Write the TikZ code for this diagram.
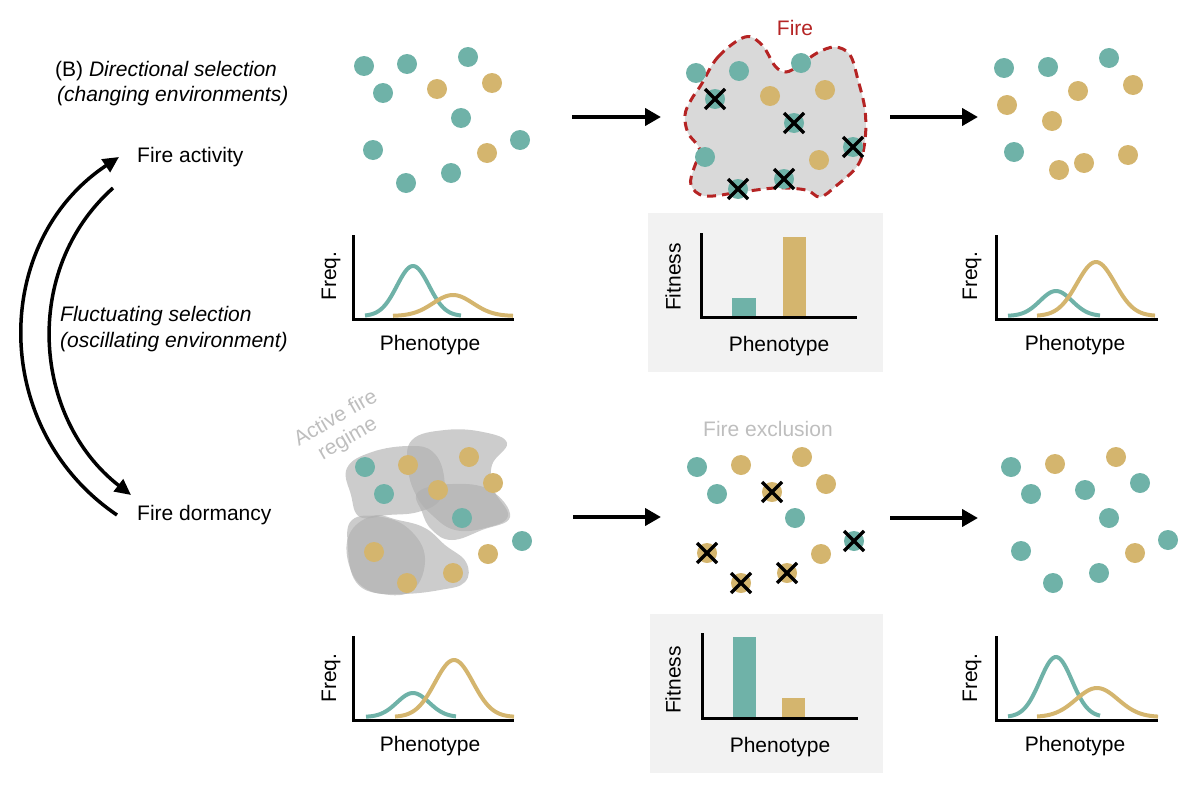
\documentclass[tikz,border=0pt]{standalone}
\usepackage{fontspec}
\setmainfont{Liberation Sans}
\usetikzlibrary{arrows.meta}
\definecolor{tealc}{RGB}{111,178,168}
\definecolor{goldc}{RGB}{212,181,110}
\definecolor{firered}{RGB}{181,36,36}
\definecolor{blobgray}{RGB}{217,217,217}
\definecolor{panelgray}{RGB}{242,242,242}
\definecolor{lightlabel}{RGB}{190,190,190}
\definecolor{regimegray}{RGB}{175,175,175}
\begin{document}
\begin{tikzpicture}[x=1pt,y=-1pt,
  every node/.style={font=\fontsize{21}{24}\selectfont, inner sep=0pt},
  tdot/.style={circle, fill=tealc, minimum size=20pt},
  gdot/.style={circle, fill=goldc, minimum size=20pt},
  bigarrow/.style={line width=4pt, -{Triangle[length=16pt,width=17pt]}},
  cyclearrow/.style={line width=3.5pt, -{Triangle[length=16pt,width=15pt]}},
  axisline/.style={line width=3pt},
  tcurve/.style={line width=4pt, tealc},
  gcurve/.style={line width=4pt, goldc},
  xmark/.pic={\draw[line width=3.5pt] (-10,-10)--(10,10) (-10,10)--(10,-10);},
  regime/.style={fill=regimegray, fill opacity=0.63},
  panel/.style={fill=panelgray}
]
\useasboundingbox (0,0) rectangle (1196,792);

% ---------------- left side ----------------
\node[anchor=west] (titleB) at (55,71) {(B) \textit{Directional selection}};
\node[anchor=west] (titleB2) at (57,96) {\textit{(changing environments)}};
\node[anchor=west] (fa) at (137,157) {Fire activity};
\node[anchor=west] (fd) at (137,515) {Fire dormancy};
\node[anchor=west] (fl1) at (60,316) {\textit{Fluctuating selection}};
\node[anchor=west] (fl2) at (60,342) {\textit{(oscillating environment)}};

\coordinate (outS) at (117,515);
\coordinate (outE) at (119,157);
\coordinate (inS) at (113,188);
\coordinate (inE) at (131,495);
\draw[cyclearrow] (outS) .. controls (-10,429) and (-9,242) .. (outE);
\draw[cyclearrow] (inS) .. controls (21,270) and (33,419) .. (inE);

% ---------------- top row ----------------
% population 1
\node[tdot] (t1) at (364,66) {};
\node[tdot] (t2) at (407,64) {};
\node[tdot] (t3) at (468,57) {};
\node[tdot] (t4) at (383,93) {};
\node[gdot] (t5) at (437,89) {};
\node[gdot] (t6) at (492,83) {};
\node[tdot] (t7) at (461,118) {};
\node[tdot] (t8) at (373,150) {};
\node[gdot] (t9) at (487,153) {};
\node[tdot] (t10) at (520,140) {};
\node[tdot] (t11) at (451,173) {};
\node[tdot] (t12) at (406,183) {};

\coordinate (a1s) at (572,117);
\coordinate (a1e) at (661,117);
\draw[bigarrow] (a1s) -- (a1e);

% fire blob
\node[text=firered] (firelbl) at (795,28) {Fire};
\draw[fill=blobgray, draw=firered, line width=3pt, dash pattern=on 9pt off 6pt]
  plot[smooth cycle, tension=0.6] coordinates {(701,85) (718,57) (745,37) (762,45) (775,66) (786,72) (800,65) (817,53) (835,47) (850,55) (858,80) (865,110) (865,140) (858,165) (836,186) (820,197) (806,190) (776,188) (741,192) (705,196) (691,185) (694,168) (700,150) (688,133) (685,115) (691,100)};
\node[tdot] (f1) at (696,73) {};
\node[tdot] (f2) at (739,71) {};
\node[tdot] (f3) at (801,63) {};
\node[tdot] (f4) at (715,99) {};
\node[gdot] (f5) at (770,96) {};
\node[gdot] (f6) at (825,90) {};
\node[tdot] (f7) at (794,123) {};
\node[tdot] (f8) at (853,147) {};
\node[tdot] (f9) at (705,157) {};
\node[gdot] (f10) at (819,160) {};
\node[tdot] (f11) at (784,179) {};
\node[tdot] (f12) at (738,189) {};
\pic at (f4) {xmark};
\pic at (f7) {xmark};
\pic at (f8) {xmark};
\pic at (f11) {xmark};
\pic at (f12) {xmark};

\coordinate (a2s) at (890,117);
\coordinate (a2e) at (978,117);
\draw[bigarrow] (a2s) -- (a2e);

% population 3
\node[tdot] (r1) at (1004,68) {};
\node[tdot] (r2) at (1048,67) {};
\node[tdot] (r3) at (1109,58) {};
\node[gdot] (r4) at (1133,85) {};
\node[gdot] (r5) at (1078,91) {};
\node[gdot] (r6) at (1007,105) {};
\node[gdot] (r7) at (1052,121) {};
\node[tdot] (r8) at (1014,152) {};
\node[gdot] (r9) at (1059,170) {};
\node[gdot] (r10) at (1084,163) {};
\node[gdot] (r11) at (1128,155) {};

% chart 1 (top left)
\draw[tcurve] plot[domain=365:461, samples=60] (\x,{316-50*exp(-0.5*((\x-413)/16)^2)});
\draw[gcurve] plot[domain=393:513, samples=60] (\x,{316-21*exp(-0.5*((\x-453)/20)^2)});
\draw[axisline] (353,235) -- (353,319) -- (514,319);
\node[rotate=90] (fq1) at (331,276) {Freq.};
\node (ph1) at (430,345) {Phenotype};

% chart 2 (top middle)
\fill[panel] (648,213) rectangle (883,372);
\fill[tealc] (732,298) rectangle (756,317);
\fill[goldc] (783,237) rectangle (806,317);
\draw[axisline] (701,233) -- (701,317) -- (857,317);
\node[rotate=90] (fi1) at (673,277) {Fitness};
\node (ph2) at (779,346) {Phenotype};

% chart 3 (top right)
\draw[tcurve] plot[domain=1008:1100, samples=60] (\x,{316-25*exp(-0.5*((\x-1056)/16)^2)});
\draw[gcurve] plot[domain=1037:1155, samples=60] (\x,{316-54*exp(-0.5*((\x-1096)/19)^2)});
\draw[axisline] (996,235) -- (996,319) -- (1158,319);
\node[rotate=90] (fq3) at (972,276) {Freq.};
\node (ph3) at (1075,345) {Phenotype};

% ---------------- bottom row ----------------
\node[text=lightlabel, rotate=30, align=center] (regime) at (342,429) {Active fire\\regime};
\fill[regime] plot[smooth cycle, tension=0.7] coordinates {(347,468) (372,452) (410,446) (433,452) (444,476) (440,500) (418,512) (388,515) (360,517) (351,495)};
\fill[regime] plot[smooth cycle, tension=0.7] coordinates {(412,440) (445,430) (483,432) (507,443) (492,465) (494,490) (508,516) (485,528) (455,530) (432,515) (416,495) (408,468)};
\fill[regime] plot[smooth cycle, tension=0.7] coordinates {(418,492) (452,484) (490,490) (510,517) (482,530) (452,540) (432,530) (422,512)};
\fill[regime] plot[smooth cycle, tension=0.7] coordinates {(372,516) (398,520) (425,528) (445,545) (466,562) (465,582) (440,590) (400,594) (368,590) (350,568) (349,535)};
\fill[regime] plot[smooth cycle, tension=0.7] coordinates {(352,520) (382,517) (410,530) (425,558) (413,590) (382,594) (356,582) (348,548)};

\node[tdot] (b1) at (365,467) {};
\node[gdot] (b2) at (408,465) {};
\node[gdot] (b3) at (469,457) {};
\node[tdot] (b4) at (384,494) {};
\node[gdot] (b5) at (438,490) {};
\node[gdot] (b6) at (493,483) {};
\node[tdot] (b7) at (462,518) {};
\node[tdot] (b8) at (522,541) {};
\node[gdot] (b9) at (374,552) {};
\node[gdot] (b10) at (488,554) {};
\node[gdot] (b11) at (453,573) {};
\node[gdot] (b12) at (407,583) {};

\coordinate (a3s) at (573,517);
\coordinate (a3e) at (661,517);
\draw[bigarrow] (a3s) -- (a3e);

\node[text=lightlabel] (excl) at (768,429) {Fire exclusion};
\node[tdot] (e1) at (697,467) {};
\node[gdot] (e2) at (741,465) {};
\node[gdot] (e3) at (802,457) {};
\node[tdot] (e4) at (717,494) {};
\node[gdot] (e5) at (772,492) {};
\node[gdot] (e6) at (826,484) {};
\node[tdot] (e7) at (795,518) {};
\node[tdot] (e8) at (854,541) {};
\node[gdot] (e9) at (707,553) {};
\node[gdot] (e10) at (821,554) {};
\node[gdot] (e11) at (787,573) {};
\node[gdot] (e12) at (741,583) {};
\pic at (e5) {xmark};
\pic at (e8) {xmark};
\pic at (e9) {xmark};
\pic at (e11) {xmark};
\pic at (e12) {xmark};

\coordinate (a4s) at (890,518);
\coordinate (a4e) at (978,518);
\draw[bigarrow] (a4s) -- (a4e);

\node[tdot] (s1) at (1011,467) {};
\node[gdot] (s2) at (1055,464) {};
\node[gdot] (s3) at (1116,457) {};
\node[tdot] (s4) at (1031,494) {};
\node[tdot] (s5) at (1085,490) {};
\node[tdot] (s6) at (1140,483) {};
\node[tdot] (s7) at (1109,518) {};
\node[tdot] (s8) at (1168,540) {};
\node[tdot] (s9) at (1021,551) {};
\node[gdot] (s10) at (1135,553) {};
\node[tdot] (s11) at (1099,573) {};
\node[tdot] (s12) at (1053,583) {};

% chart 4 (bottom left)
\draw[tcurve] plot[domain=366:456, samples=60] (\x,{717-24*exp(-0.5*((\x-413)/16)^2)});
\draw[gcurve] plot[domain=395:514, samples=60] (\x,{717-57*exp(-0.5*((\x-454)/19)^2)});
\draw[axisline] (353,636) -- (353,720) -- (514,720);
\node[rotate=90] (fq4) at (331,678) {Freq.};
\node (ph4) at (430,746) {Phenotype};

% chart 5 (bottom middle)
\fill[panel] (650,614) rectangle (883,773);
\fill[tealc] (733,637) rectangle (756,718);
\fill[goldc] (782,698) rectangle (805,718);
\draw[axisline] (702,633) -- (702,718) -- (858,718);
\node[rotate=90] (fi2) at (673,680) {Fitness};
\node (ph5) at (780,747) {Phenotype};

% chart 6 (bottom right)
\draw[tcurve] plot[domain=1008:1100, samples=60] (\x,{717-60*exp(-0.5*((\x-1056)/16)^2)});
\draw[gcurve] plot[domain=1037:1158, samples=60] (\x,{717-29*exp(-0.5*((\x-1097)/21)^2)});
\draw[axisline] (996,636) -- (996,720) -- (1158,720);
\node[rotate=90] (fq6) at (972,678) {Freq.};
\node (ph6) at (1075,746) {Phenotype};
\end{tikzpicture}
\end{document}
